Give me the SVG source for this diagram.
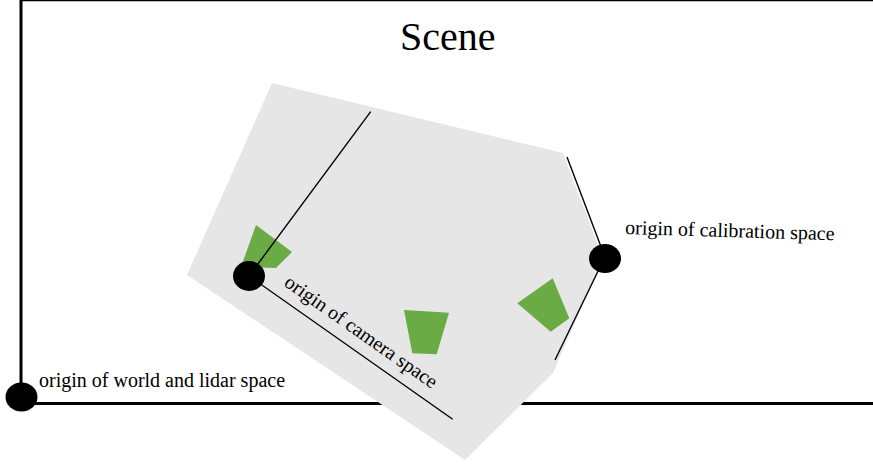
<svg xmlns="http://www.w3.org/2000/svg" width="873" height="464" viewBox="0 0 873 464">
  <style>
    .lbl { font-family: "Liberation Serif", "Times New Roman", serif; fill: #000; }
    .axis { stroke: #000; stroke-width: 1.4; fill: none; }
    .frame { stroke: #000; fill: none; }
    .obj { fill: #6aab45; }
    .origin { fill: #000; }
  </style>
  <rect width="873" height="464" fill="#fff"/>

  <!-- scene frame -->
  <g id="frame">
    <line class="frame" x1="21" y1="0.6" x2="873" y2="0.6" stroke-width="1.4"/>
    <line class="frame" x1="21" y1="0" x2="21" y2="397" stroke-width="3"/>
    <line class="frame" x1="21" y1="403.5" x2="873" y2="403.5" stroke-width="3"/>
    <text class="lbl" x="400" y="49.5" font-size="40">Scene</text>
  </g>

  <!-- field of view of the sensor rig -->
  <g id="coverage">
    <polygon points="272,83 563,153 603,258 553,373 465,460 187,275" fill="#e6e6e6"/>
  </g>

  <!-- observed objects -->
  <g id="object-1">
    <polygon class="obj" points="256,225 292,252 276,268 241,267"/>
  </g>
  <g id="object-2">
    <polygon class="obj" points="404,310 449,312.7 436.7,354.3 412.3,353.3"/>
  </g>
  <g id="object-3">
    <polygon class="obj" points="517.3,303.3 552.7,278.3 569.3,318.3 550.7,331.7"/>
  </g>

  <!-- coordinate axes -->
  <g id="connectors">
    <line class="axis" x1="370.7" y1="111.7" x2="249" y2="276"/>
    <line class="axis" x1="249" y1="276" x2="452.7" y2="419.3"/>
    <line class="axis" x1="567" y1="157" x2="603" y2="252"/>
    <line class="axis" x1="601" y1="265" x2="555" y2="360"/>
  </g>

  <!-- origins -->
  <g id="world-origin">
    <ellipse class="origin" cx="21.5" cy="397" rx="16" ry="14.5"/>
    <text class="lbl" x="39" y="387" font-size="20">origin of world and lidar space</text>
  </g>
  <g id="camera-origin">
    <ellipse class="origin" cx="249" cy="276" rx="16" ry="15"/>
    <text class="lbl" font-size="20" transform="translate(283,285) rotate(35)">origin of camera space</text>
  </g>
  <g id="calibration-origin">
    <ellipse class="origin" cx="605" cy="258.5" rx="16" ry="14.5"/>
    <text class="lbl" font-size="20" transform="translate(625,234) rotate(1.7)">origin of calibration space</text>
  </g>
</svg>
